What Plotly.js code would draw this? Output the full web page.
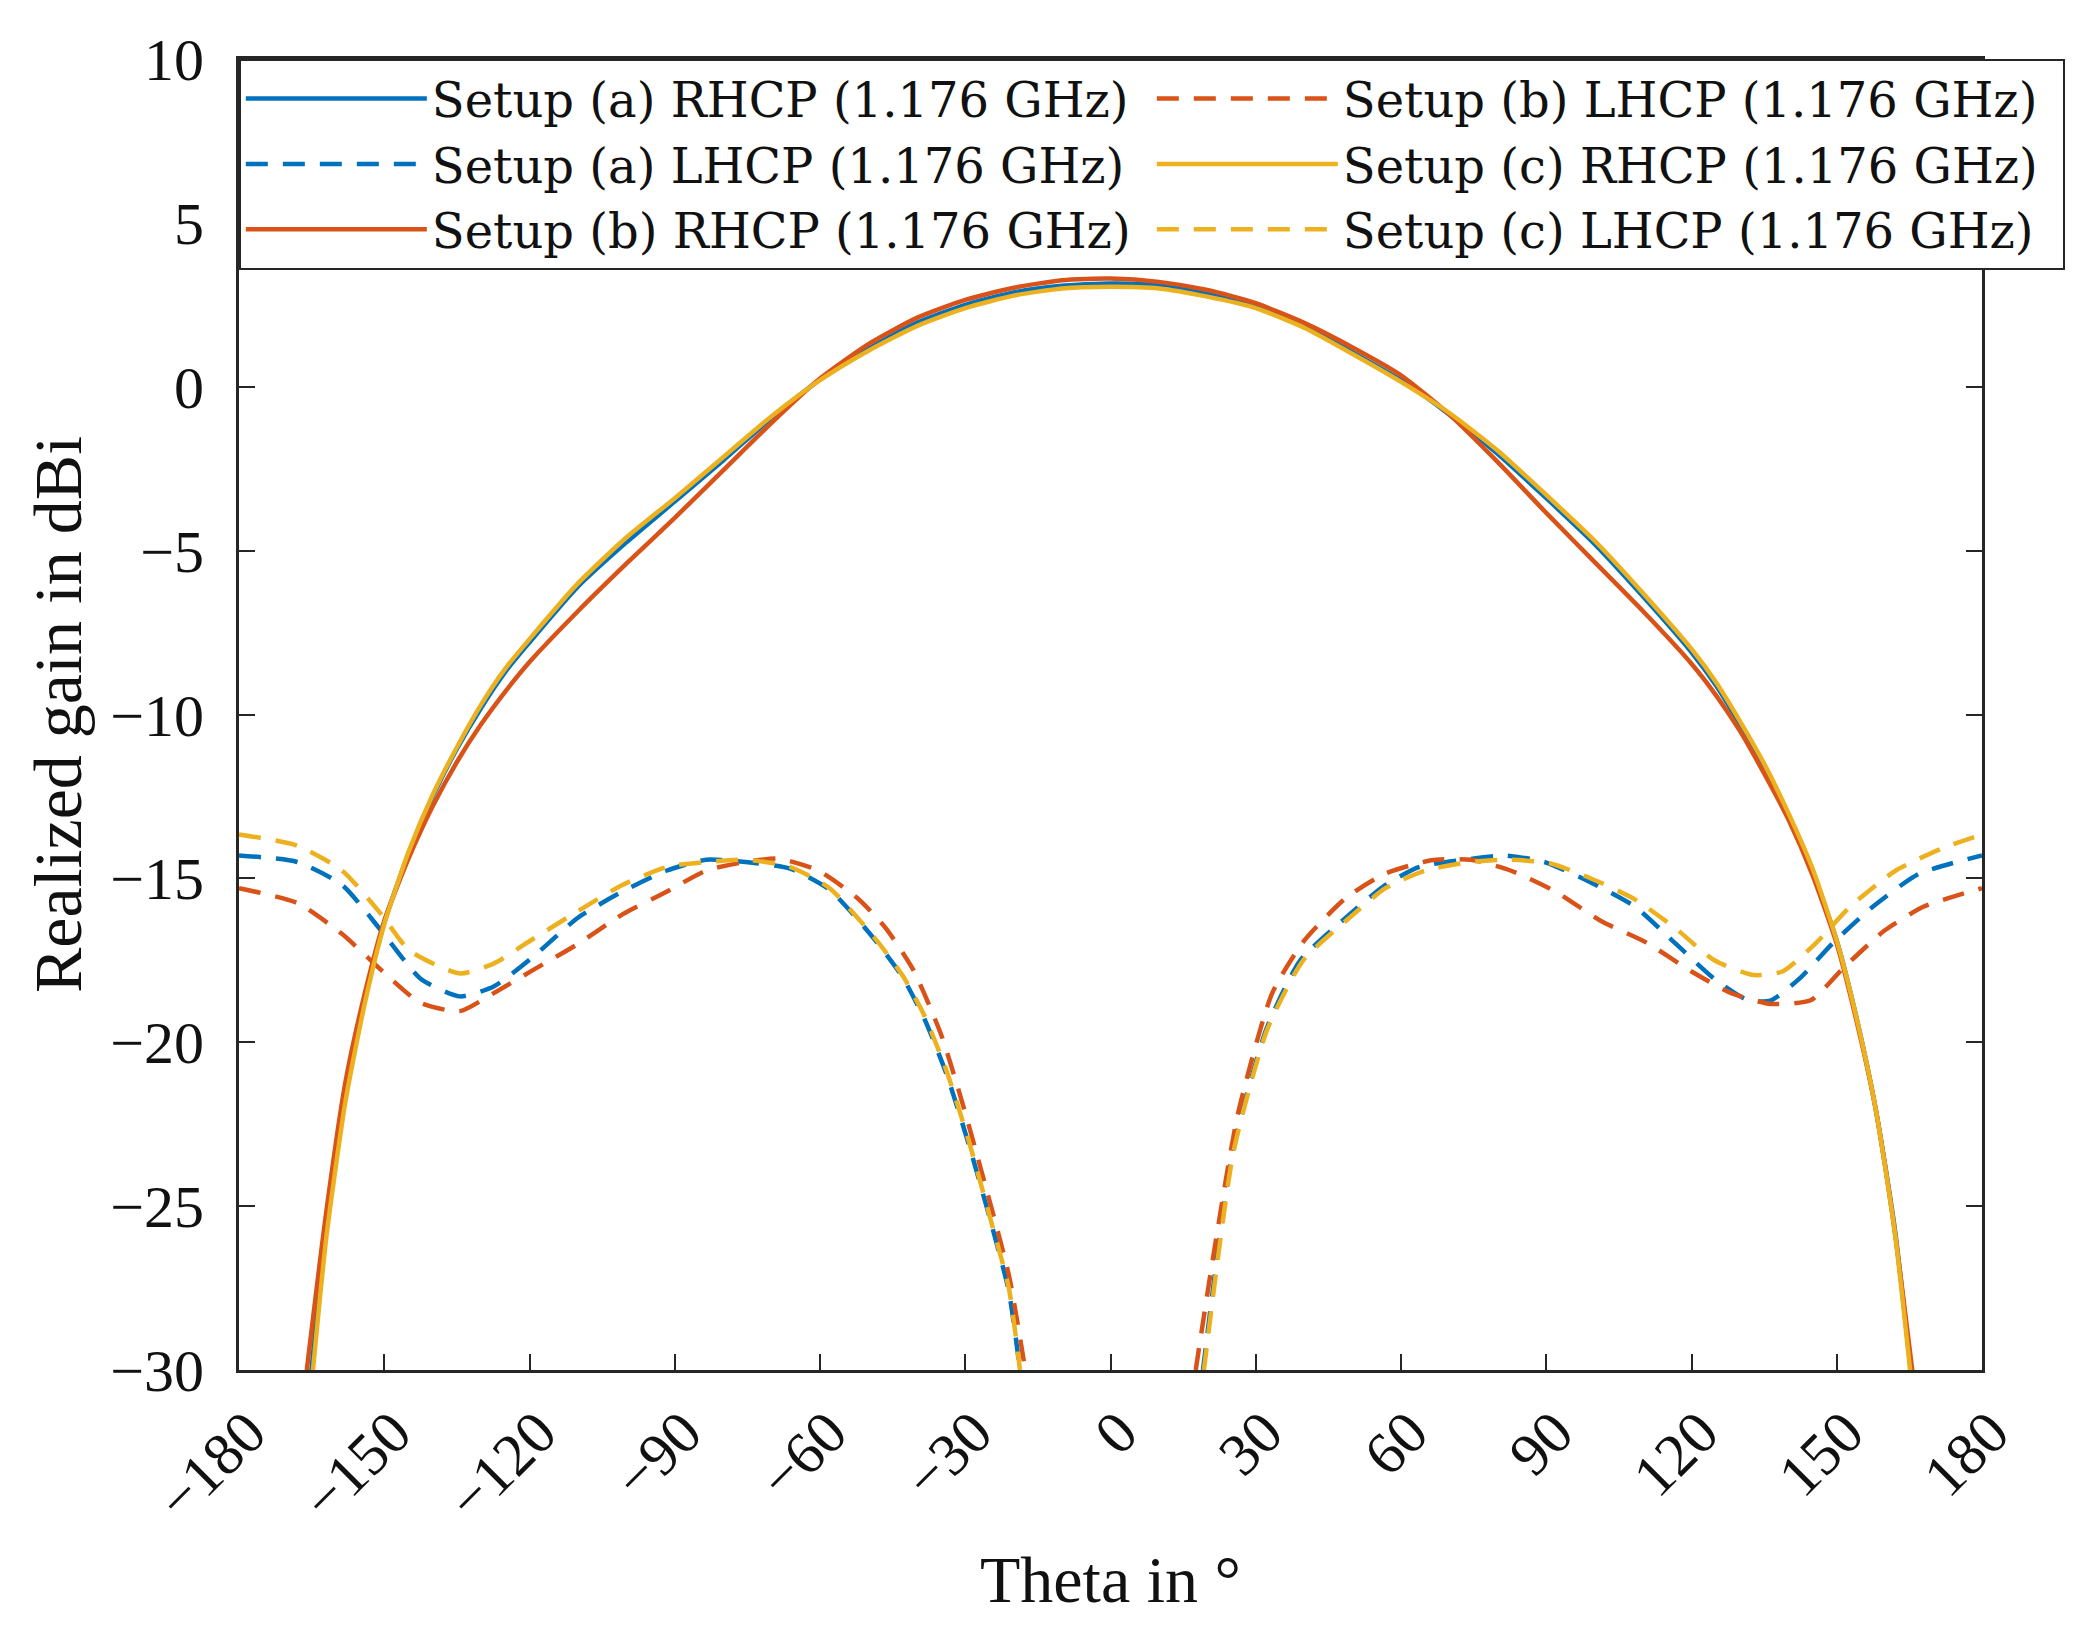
<!DOCTYPE html>
<html>
<head>
<meta charset="utf-8">
<script src="https://cdn.plot.ly/plotly-3.0.1.min.js"></script>
<style>
  html, body { margin: 0; padding: 0; background: #fff; }
  #plot { width: 2080px; height: 1628px; }
</style>
</head>
<body>
<div id="plot"></div>
<script>
// Realized gain (dBi) vs theta (deg), 1.176 GHz

// co-polar (RHCP) main lobe, shared theta grid
const thetaR = [-166, -162, -158, -154, -150, -145, -140, -135, -130, -125, -120, -110, -100, -90,
  -80, -70, -60, -50, -40, -30, -20, -10, 0, 10, 20, 30, 40, 50, 60, 70, 80, 90, 100, 110,
  120, 125, 130, 135, 140, 145, 150, 154, 158, 162, 166];

const rhcpA = [-31.5, -25.6, -21.6, -18.7, -16.35, -14.25, -12.5, -11.05, -9.8, -8.7, -7.8, -6.1, -4.75, -3.5,
  -2.25, -0.95, 0.22, 1.15, 1.95, 2.5, 2.88, 3.08, 3.15, 3.1, 2.85, 2.45, 1.85, 1.05, 0.2, -0.85, -2.05, -3.4, -4.8, -6.4,
  -8.1, -9.1, -10.3, -11.6, -13.1, -14.8, -16.9, -19.2, -22.0, -25.7, -31.0];
const rhcpB = [-30.0, -25.2, -21.2, -18.5, -16.3, -14.4, -12.8, -11.45, -10.3, -9.3, -8.4, -6.85, -5.4, -4.0,
  -2.55, -1.1, 0.25, 1.3, 2.1, 2.65, 3.02, 3.25, 3.3, 3.2, 2.95, 2.55, 1.95, 1.2, 0.35, -0.85, -2.3, -3.85, -5.35, -6.85,
  -8.45, -9.4, -10.5, -11.8, -13.2, -14.9, -17.0, -19.3, -22.0, -25.8, -30.5];
const rhcpC = [-32.0, -26.0, -21.8, -18.8, -16.4, -14.2, -12.45, -11.0, -9.7, -8.6, -7.7, -6.0, -4.6, -3.4,
  -2.15, -0.9, 0.2, 1.1, 1.85, 2.4, 2.78, 3.0, 3.05, 3.0, 2.75, 2.4, 1.8, 1.0, 0.15, -0.8, -1.95, -3.3, -4.7, -6.3,
  -8.0, -9.0, -10.2, -11.5, -13.0, -14.7, -16.9, -19.2, -22.0, -25.8, -31.2];

// cross-polar (LHCP), two lobes each, null between them
const thetaLA = [-180, -168, -158.7, -150.6, -142.5, -134.4, -127.4, -119.3, -110, -100.8, -91.6, -83.5,
  -75.4, -66.2, -58, -48.8, -43, -38.4, -33.8, -29.1, -24.5, -21, -18.7, null,
  19.1, 25.2, 32.2, 39.2, 48.6, 56.8, 63.8, 73.2, 81.4, 89.6, 98.9, 108.3, 116.5, 124.7, 131.7,
  136.4, 142.3, 149.3, 157.5, 166.9, 180];
const lhcpA = [-14.3, -14.5, -15.2, -16.6, -18.06, -18.6, -18.3, -17.4, -16.2, -15.4, -14.76, -14.43,
  -14.5, -14.7, -15.35, -16.85, -18.0, -19.3, -21.0, -23.2, -25.6, -27.6, -30.0, null,
  -30.0, -23.35, -19.6, -17.5, -16.2, -15.2, -14.65, -14.43, -14.3, -14.5, -15.1, -15.86, -16.96, -18.06, -18.72,
  -18.72, -18.06, -16.96, -15.86, -14.87, -14.3];

const thetaLB = [-180, -168, -158.7, -150.6, -142.5, -134.4, -127.4, -119.3, -110, -100.8, -91.6, -83.5,
  -75.4, -68.5, -60.4, -52.3, -46.5, -40.7, -34.9, -30.3, -25.7, -21, -17.6, null,
  17.6, 21.1, 26.3, 33.4, 40.0, 48.6, 56.8, 66.2, 74.4, 82.6, 91.9, 101.3, 110.7, 120,
  128.2, 136.4, 144.6, 151.6, 159.8, 168, 180];
const lhcpB = [-15.3, -15.75, -16.7, -17.8, -18.8, -19.05, -18.5, -17.8, -17.0, -16.1, -15.4, -14.76,
  -14.5, -14.4, -14.76, -15.6, -16.5, -17.8, -19.8, -22.0, -24.45, -27.1, -30.0, null,
  -30.0, -26.65, -22.2, -18.5, -16.9, -15.6, -14.85, -14.45, -14.43, -14.76, -15.4, -16.3, -16.96, -17.84,
  -18.5, -18.83, -18.72, -17.7, -16.6, -15.86, -15.3];

const thetaLC = [-180, -168, -158.7, -150.6, -144.8, -134.4, -127.4, -119.3, -110, -100.8, -91.6, -83.5,
  -75.4, -66.2, -58, -48.8, -43, -38.4, -33.8, -29.1, -24.5, -21, -18.7, null,
  19.3, 25.4, 32.4, 39.8, 48.6, 56.8, 65, 74.4, 82.6, 90.7, 98.9, 108.3, 116.5, 124.7, 132.9,
  138.8, 145.8, 152.8, 162.2, 171.5, 180];
const lhcpC = [-13.66, -14.0, -14.76, -16.1, -17.2, -17.9, -17.6, -16.85, -16.0, -15.2, -14.65, -14.5,
  -14.43, -14.65, -15.3, -16.8, -17.95, -19.2, -20.9, -23.1, -25.55, -27.5, -30.0, null,
  -30.0, -23.35, -19.6, -17.5, -16.3, -15.3, -14.76, -14.5, -14.43, -14.54, -14.98, -15.64, -16.5, -17.5, -17.95,
  -17.84, -16.96, -15.86, -14.76, -14.1, -13.66];

const xTicks = [-180, -150, -120, -90, -60, -30, 0, 30, 60, 90, 120, 150, 180];
const xTickText = ['\u2212180', '\u2212150', '\u2212120', '\u221290', '\u221260', '\u221230', '0',
  '30', '60', '90', '120', '150', '180'];
const yTicks = [-30, -25, -20, -15, -10, -5, 0, 5, 10];
const yTickText = ['\u221230', '\u221225', '\u221220', '\u221215', '\u221210', '\u22125', '0', '5', '10'];

const blue = '#0072BD';
const red = '#D95319';
const yellow = '#EDB120';
const dashPat = '22px,15px';
const lw = 4.5;

function mk(x, y, name, color, dash, rank) {
  return {
    x : x,
    y : y,
    mode : 'lines',
    type : 'scatter',
    name : name,
    line : {color : color, width : lw, dash : dash, shape : 'spline', smoothing : 0.6},
    legendrank : rank,
    connectgaps : false,
    hoverinfo : 'skip'
  };
}

// legend is filled row by row, ranks give MATLAB's column order
const data = [
  mk(thetaR, rhcpA, 'Setup (a) RHCP (1.176 GHz)', blue, 'solid', 1),
  mk(thetaLA, lhcpA, 'Setup (a) LHCP (1.176 GHz)', blue, dashPat, 3),
  mk(thetaR, rhcpB, 'Setup (b) RHCP (1.176 GHz)', red, 'solid', 5),
  mk(thetaLB, lhcpB, 'Setup (b) LHCP (1.176 GHz)', red, dashPat, 2),
  mk(thetaR, rhcpC, 'Setup (c) RHCP (1.176 GHz)', yellow, 'solid', 4),
  mk(thetaLC, lhcpC, 'Setup (c) LHCP (1.176 GHz)', yellow, dashPat, 6)
];

const axisCol = '#262626';
const serif = 'Liberation Serif, Times New Roman, serif';

const layout = {
  width : 2080,
  height : 1628,
  margin : {l : 239, r : 98, t : 59, b : 258, autoexpand : false},
  paper_bgcolor : '#fff',
  plot_bgcolor : '#fff',
  font : {family : serif, color : axisCol},
  showlegend : true,
  legend : {
    orientation : 'h',
    x : -0.0001,
    y : 1.0001,
    xanchor : 'left',
    yanchor : 'top',
    entrywidth : 715,
    entrywidthmode : 'pixels',
    itemwidth : 181,
    bgcolor : '#fff',
    bordercolor : axisCol,
    borderwidth : 2,
    font : {family : 'DejaVu Serif, serif', size : 48, color : '#111'},
    traceorder : 'normal'
  },
  xaxis : {
    range : [-180, 180],
    tickvals : xTicks,
    ticktext : xTickText,
    tickangle : -45,
    ticklabelshift : 9,
    ticks : 'inside',
    ticklen : 16,
    tickwidth : 2,
    tickcolor : axisCol,
    showline : true,
    linewidth : 3,
    linecolor : axisCol,
    mirror : 'allticks',
    showgrid : false,
    zeroline : false,
    tickfont : {family : serif, size : 60, color : '#111'},
    title : {text : 'Theta in \u00b0', font : {family : serif, size : 66, color : '#111'}, standoff : 24}
  },
  yaxis : {
    range : [-30, 10],
    tickvals : yTicks,
    ticktext : yTickText,
    ticks : 'inside',
    ticklen : 16,
    tickwidth : 2,
    tickcolor : axisCol,
    showline : true,
    linewidth : 3,
    linecolor : axisCol,
    mirror : 'allticks',
    showgrid : false,
    zeroline : false,
    ticklabelstandoff : 20,
    tickfont : {family : serif, size : 60, color : '#111'},
    title : {text : 'Realized gain in dBi', font : {family : serif, size : 68, color : '#111'}, standoff : 7}
  }
};

Plotly.newPlot('plot', data, layout, {staticPlot : true, displayModeBar : false});
</script>
</body>
</html>
